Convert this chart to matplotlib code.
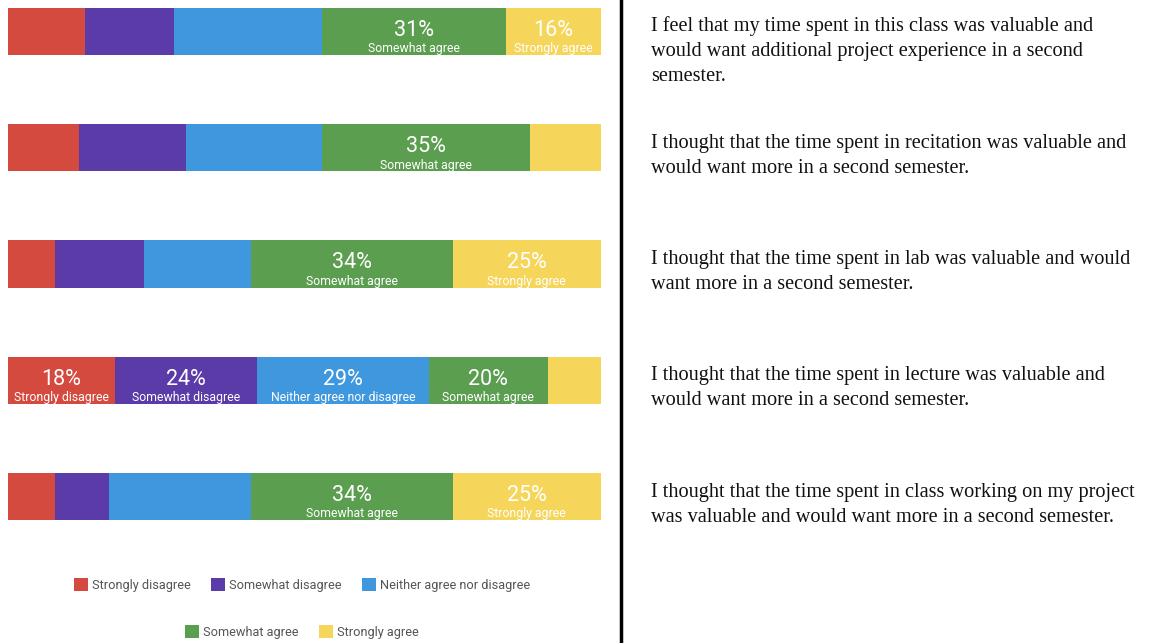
import numpy as np
import matplotlib
matplotlib.use("Agg")
import matplotlib.pyplot as plt
from matplotlib.patches import Patch

# response categories and colours
categories = ["Strongly disagree", "Somewhat disagree", "Neither agree nor disagree",
              "Somewhat agree", "Strongly agree"]
colors = ["#d54a3f", "#5a3ba8", "#3f98de", "#5c9e50", "#f6d55b"]

# percent per statement (top to bottom)
strongly_disagree = [13, 12, 8, 18, 8]
somewhat_disagree = [15, 18, 15, 24, 9]
neither = [25, 23, 18, 29, 24]
somewhat_agree = [31, 35, 34, 20, 34]
strongly_agree = [16, 12, 25, 9, 25]

# which segments carry a label in the picture
shown = [
    [0, 0, 0, 1, 1],
    [0, 0, 0, 1, 0],
    [0, 0, 0, 1, 1],
    [1, 1, 1, 1, 0],
    [0, 0, 0, 1, 1],
]

statements = [
    "I feel that my time spent in this class was valuable and\nwould want additional project experience in a second\nsemester.",
    "I thought that the time spent in recitation was valuable and\nwould want more in a second semester.",
    "I thought that the time spent in lab was valuable and would\nwant more in a second semester.",
    "I thought that the time spent in lecture was valuable and\nwould want more in a second semester.",
    "I thought that the time spent in class working on my project\nwas valuable and would want more in a second semester.",
]

W, H = 1151, 643
fig = plt.figure(figsize=(W / 100, H / 100), dpi=100)

label_font = ["Roboto", "DejaVu Sans"]

ax = fig.add_axes([8 / W, 1 - 520 / H, 593 / W, 512 / H])
data = np.array([strongly_disagree, somewhat_disagree, neither, somewhat_agree, strongly_agree])
rows = np.arange(len(statements))
left = np.zeros(len(statements))
for j in range(len(categories)):
    ax.barh(rows, data[j], left=left, height=0.405, color=colors[j], edgecolor="none")
    for i in rows:
        if shown[i][j]:
            cx = left[i] + data[j][i] / 2
            ax.text(cx, i - 0.01, f"{data[j][i]}%", ha="center", va="center",
                    color="white", fontsize=15.5, family=label_font)
            ax.text(cx, i + 0.15, categories[j], ha="center", va="center",
                    color="white", fontsize=8.8, family=label_font)
    left += data[j]
ax.set_xlim(0, 100)
ax.set_ylim(len(statements) - 1 + 0.2025, -0.2025)
ax.axis("off")

# statements on the right
centers = [51, 156, 272, 388, 505]
for s, c in zip(statements, centers):
    fig.text(651 / W, 1 - c / H, s, ha="left", va="center", fontsize=14.6,
             family="Liberation Serif", linespacing=1.44, color="#111111")

# vertical divider
fig.add_artist(plt.Line2D([621 / W, 621 / W], [0, 1], color="black", lw=2.5))

# legend in two rows
handles = [Patch(facecolor=c, edgecolor="none") for c in colors]
leg_kw = dict(frameon=False, handlelength=1.1, handleheight=1.1,
              handletextpad=0.3, columnspacing=1.6, labelcolor="#555555",
              prop={"family": label_font, "size": 9.2})
fig.legend(handles[:3], categories[:3], loc="center", ncol=3,
           bbox_to_anchor=(302 / W, 1 - 585 / H), **leg_kw)
fig.legend(handles[3:], categories[3:], loc="center", ncol=2,
           bbox_to_anchor=(302 / W, 1 - 632 / H), **leg_kw)

fig.savefig("out.png", dpi=100)
